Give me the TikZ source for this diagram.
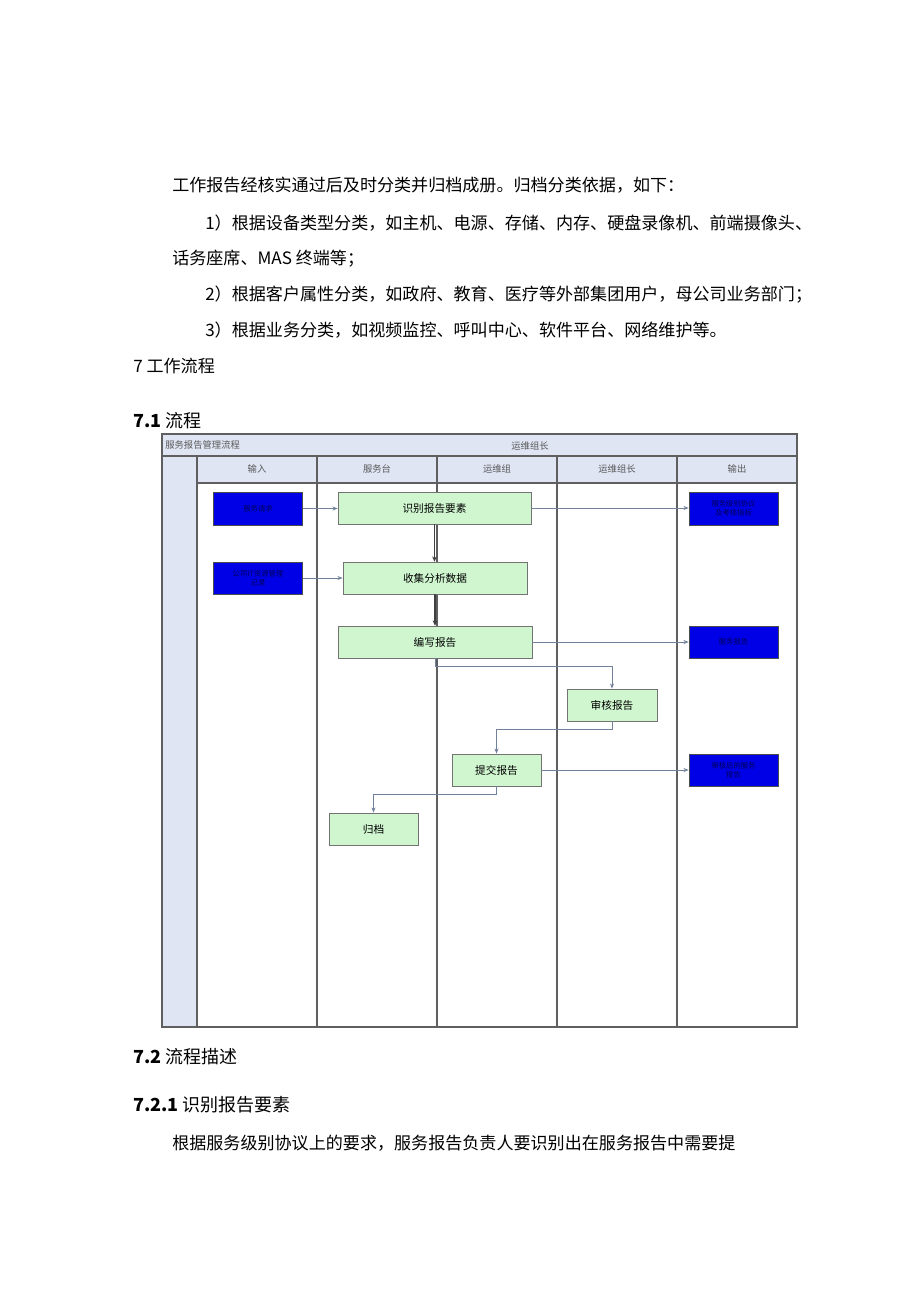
\documentclass[tikz,border=0pt]{standalone}
\usepackage{fontspec}
\setmainfont{Noto Sans CJK SC}
\usetikzlibrary{arrows.meta}
\definecolor{bluebox}{RGB}{0,0,230}
\definecolor{greenbox}{RGB}{208,246,208}
\definecolor{headfill}{RGB}{223,229,243}
\definecolor{framec}{RGB}{95,95,95}
\definecolor{arrowc}{RGB}{115,130,155}
\tikzset{
 bodytext/.style={anchor=west, inner sep=0, font=\fontsize{12.8}{15}\selectfont},
 headtext/.style={anchor=west, inner sep=0, font=\fontsize{13.5}{16}\selectfont},
 inbox/.style={draw=black!70, fill=bluebox, text=blue!35!black, font=\fontsize{5.5}{6.5}\selectfont, align=center, inner sep=0, minimum width=66.75pt},
 procbox/.style={draw=black!55, fill=greenbox, font=\fontsize{8}{10}\selectfont, inner sep=0, minimum height=24pt},
 flow/.style={draw=arrowc, line width=0.6pt, -{Stealth[length=4pt,width=3pt]}},
 mainflow/.style={draw=black!75, line width=1.1pt, -{Stealth[length=4pt,width=3.5pt]}},
 lane/.style={draw=framec, line width=1.2pt},
 lanelabel/.style={font=\fontsize{7}{8}\selectfont, text=black!65, inner sep=0}
}
\begin{document}
\begin{tikzpicture}[x=0.75pt,y=-0.75pt]
\useasboundingbox[fill=white] (0,0) rectangle (920,1301);

% body text
\node[bodytext] (t1) at (172,185) {工作报告经核实通过后及时分类并归档成册。归档分类依据，如下：};
\node[bodytext] (t2) at (205,223) {1）根据设备类型分类，如主机、电源、存储、内存、硬盘录像机、前端摄像头、};
\node[bodytext] (t3) at (172,259) {话务座席、MAS 终端等；};
\node[bodytext] (t4) at (205,295) {2）根据客户属性分类，如政府、教育、医疗等外部集团用户，母公司业务部门；};
\node[bodytext] (t5) at (205,330) {3）根据业务分类，如视频监控、呼叫中心、软件平台、网络维护等。};
\node[bodytext] (t6) at (133,366) {7 工作流程};
\node[headtext] (h1) at (133,421) {\textbf{7.1} 流程};
\node[headtext] (h2) at (133,1057) {\textbf{7.2} 流程描述};
\node[headtext] (h3) at (133,1105) {\textbf{7.2.1} 识别报告要素};
\node[bodytext] (t7) at (172,1143) {根据服务级别协议上的要求，服务报告负责人要识别出在服务报告中需要提};

% swimlane frame
\fill[headfill] (162,434) rectangle (797,483);
\fill[headfill] (162,483) rectangle (197,1027);
\draw[lane] (162,434) rectangle (797,1027);
\draw[lane] (162,456) -- (797,456);
\draw[lane] (197,483) -- (797,483);
\foreach \xx in {197,317,437,557,677} \draw[lane] (\xx,456) -- (\xx,1027);

\node[lanelabel, anchor=west] (title) at (165,445) {服务报告管理流程};
\node[lanelabel] (tlead) at (530,446) {运维组长};
\node[lanelabel] (c1) at (257,469) {输入};
\node[lanelabel] (c2) at (377,469) {服务台};
\node[lanelabel] (c3) at (497,469) {运维组};
\node[lanelabel] (c4) at (617,469) {运维组长};
\node[lanelabel] (c5) at (737,469) {输出};

% input boxes
\node[inbox, minimum height=24.75pt] (L1) at (258,508.5) {服务请求};
\node[inbox, minimum height=24pt] (L2) at (258,578) {公司IT资源管理\\记录};

% process boxes
\node[procbox, minimum width=144.75pt] (ID) at (434.5,508) {识别报告要素};
\node[procbox, minimum width=138pt] (CO) at (435,578) {收集分析数据};
\node[procbox, minimum width=145.5pt] (WR) at (435,642) {编写报告};
\node[procbox, minimum width=67.5pt] (RV) at (612,705) {审核报告};
\node[procbox, minimum width=66.75pt] (SB) at (496.5,770) {提交报告};
\node[procbox, minimum width=66.75pt] (AR) at (373.5,829) {归档};

% output boxes
\node[inbox, minimum height=24.75pt] (R1) at (733.5,508.5) {服务级别协议\\及考核指标};
\node[inbox, minimum height=24pt] (R2) at (733.5,642) {服务报告};
\node[inbox, minimum height=24pt] (R3) at (733.5,770) {审核后的服务\\报告};

% connectors
\draw[flow] (L1.east) -- (L1.east -| ID.west);
\draw[flow] (L2.east) -- (L2.east -| CO.west);
\draw[mainflow] (ID.south) -- (ID.south |- CO.north);
\draw[mainflow] (CO.south) -- (CO.south |- WR.north);
\draw[flow] (ID.east) -- (ID.east -| R1.west);
\draw[flow] (WR.east) -- (R2.west);
\draw[flow] (WR.south) -- ++(0,8) -| (RV.north);
\draw[flow] (RV.south) -- ++(0,8) -| (SB.north);
\draw[flow] (SB.east) -- (R3.west);
\draw[flow] (SB.south) -- ++(0,8) -| (AR.north);
\end{tikzpicture}
\end{document}
